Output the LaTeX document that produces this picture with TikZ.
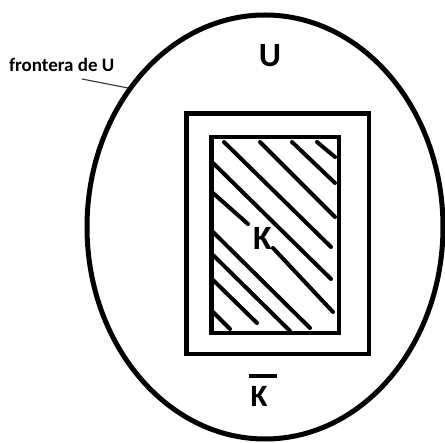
\documentclass[tikz,border=0pt]{standalone}
\usepackage{fontspec}
\setmainfont{Carlito}
\begin{document}
\begin{tikzpicture}[x=1pt,y=-1pt,
  thickline/.style={line width=4.7pt},
  hatch/.style={line width=4pt,line cap=round},
  lbl/.style={inner sep=0pt,anchor=base,font=\bfseries\fontsize{34}{34}\selectfont}]
\useasboundingbox (0,0) rectangle (445,443);
\begin{scope}
\clip (0,0) rectangle (445,443);
\draw[line width=5pt] (265,227) ellipse [x radius=178,y radius=212];
\end{scope}
% rectangles
\draw[thickline] (186.3,113.5) rectangle (369,354);
\draw[thickline] (211.3,137) rectangle (339,333);
% hatching
\draw[hatch] (224,142) -- (331,247);
\draw[hatch] (260,142) -- (335,217);
\draw[hatch] (292,142) -- (335,183);
\draw[hatch] (317,142) -- (335,157);
\draw[hatch] (213,163) -- (331,279);
\draw[hatch] (213,193) -- (248,224);
\draw[hatch] (273,248) -- (333,312);
\draw[hatch] (213,232) -- (310,328);
\draw[hatch] (213,255) -- (290,331);
\draw[hatch] (213,280) -- (257,323);
\draw[hatch] (213,312) -- (230,329);
% labels
\node[lbl] (u) at (270,66.7) {U};
\node[lbl] (k) at (262.5,250) {K};
\node[lbl,font=\bfseries\fontsize{31}{31}\selectfont] (kb) at (259,406.7) {K};
\draw[line width=4pt] (249,375.7) -- (277,375.7);
\node[inner sep=0pt,anchor=base west,font=\bfseries\fontsize{19}{19}\selectfont] (fr) at (9,71.7) {frontera de U};
\coordinate (lead1) at (82,79);
\coordinate (lead2) at (128,88);
\draw[line width=1.1pt,black!80] (lead1) -- (lead2);
\end{tikzpicture}
\end{document}
